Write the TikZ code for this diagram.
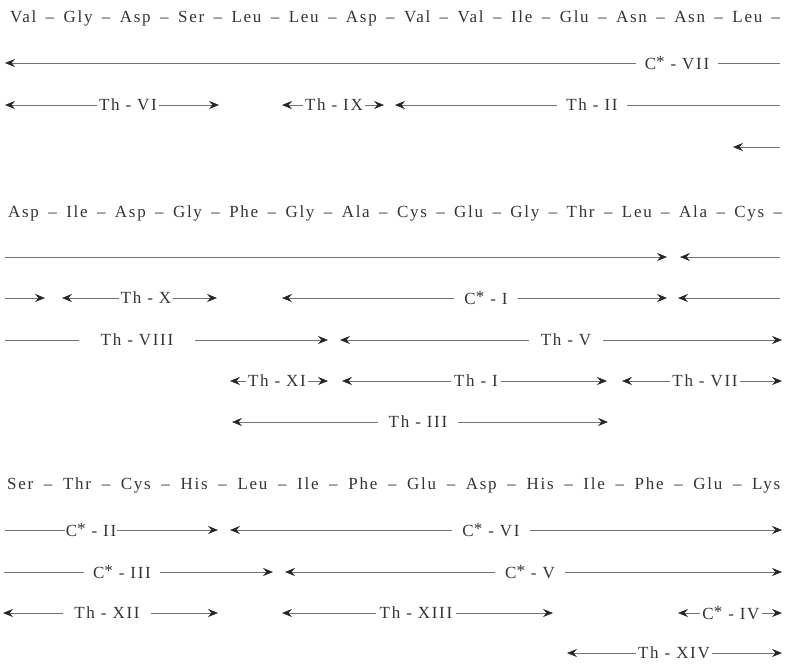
\documentclass[tikz,border=0pt]{standalone}
\usepackage{fontspec}
\setmainfont{Liberation Serif}[LetterSpace=10]
\usetikzlibrary{arrows.meta}
\newcommand{\Cst}{C\raisebox{2.5pt}{*}}
\begin{document}
\begin{tikzpicture}[x=1pt,y=-1pt,
  >={Stealth[length=10pt,width=8pt,inset=3.5pt,color=black!85]},
  seq/.style={anchor=base west, inner sep=0pt, text=black!80, font=\fontsize{17}{20}\selectfont},
  lab/.style={inner xsep=2pt, inner ysep=0pt, text=black!80, font=\fontsize{17}{20}\selectfont, anchor=center},
  ln/.style={draw=black!55, line width=0.7pt}]
\useasboundingbox (0,0) rectangle (788,664);

% ---------- sequence rows ----------
\node[seq] (r1) at (10,22) {\hbox to 770pt{Val\hfill–\hfill Gly\hfill–\hfill Asp\hfill–\hfill Ser\hfill–\hfill Leu\hfill–\hfill Leu\hfill–\hfill Asp\hfill–\hfill Val\hfill–\hfill Val\hfill–\hfill Ile\hfill–\hfill Glu\hfill–\hfill Asn\hfill–\hfill Asn\hfill–\hfill Leu\hfill–}};
\node[seq] (r2) at (8,217) {\hbox to 774pt{Asp\hfill–\hfill Ile\hfill–\hfill Asp\hfill–\hfill Gly\hfill–\hfill Phe\hfill–\hfill Gly\hfill–\hfill Ala\hfill–\hfill Cys\hfill–\hfill Glu\hfill–\hfill Gly\hfill–\hfill Thr\hfill–\hfill Leu\hfill–\hfill Ala\hfill–\hfill Cys\hfill–}};
\node[seq] (r3) at (7,489) {\hbox to 773pt{Ser\hfill–\hfill Thr\hfill–\hfill Cys\hfill–\hfill His\hfill–\hfill Leu\hfill–\hfill Ile\hfill–\hfill Phe\hfill–\hfill Glu\hfill–\hfill Asp\hfill–\hfill His\hfill–\hfill Ile\hfill–\hfill Phe\hfill–\hfill Glu\hfill–\hfill Lys}};

% ---------- row 1 fragments ----------
\coordinate (a1l) at (5,63);
\node[lab, inner xsep=9pt] (c7) at (677,63) {\Cst\ - VII};
\coordinate (a1r) at (780,63);
\draw[ln,<-] (a1l) -- (c7);
\draw[ln] (c7) -- (a1r);

\coordinate (b1l) at (5,105);
\node[lab] (th6) at (128,105) {Th - VI};
\coordinate (b1r) at (219,105);
\draw[ln,<-] (b1l) -- (th6);
\draw[ln,->] (th6) -- (b1r);

\coordinate (b2l) at (282,105);
\node[lab] (th9) at (334,105) {Th - IX};
\coordinate (b2r) at (384,105);
\draw[ln,<-] (b2l) -- (th9);
\draw[ln,->] (th9) -- (b2r);

\coordinate (b3l) at (395,105);
\node[lab, inner xsep=9pt] (th2) at (592,105) {Th - II};
\coordinate (b3r) at (780,105);
\draw[ln,<-] (b3l) -- (th2);
\draw[ln] (th2) -- (b3r);

\coordinate (s1l) at (733,147);
\coordinate (s1r) at (780,147);
\draw[ln,<-] (s1l) -- (s1r);

% ---------- row 2 fragments ----------
\coordinate (d1l) at (5,257);
\coordinate (d1r) at (667,257);
\draw[ln,->] (d1l) -- (d1r);
\coordinate (d2l) at (680,257);
\coordinate (d2r) at (780,257);
\draw[ln,<-] (d2l) -- (d2r);

\coordinate (e1l) at (5,298);
\coordinate (e1r) at (45,298);
\draw[ln,->] (e1l) -- (e1r);

\coordinate (e2l) at (62,298);
\node[lab] (th10) at (146,298) {Th - X};
\coordinate (e2r) at (217,298);
\draw[ln,<-] (e2l) -- (th10);
\draw[ln,->] (th10) -- (e2r);

\coordinate (e3l) at (282,298);
\node[lab, inner xsep=10pt] (c1) at (486,298) {\Cst\ - I};
\coordinate (e3r) at (667,298);
\draw[ln,<-] (e3l) -- (c1);
\draw[ln,->] (c1) -- (e3r);

\coordinate (e4l) at (678,298);
\coordinate (e4r) at (780,298);
\draw[ln,<-] (e4l) -- (e4r);

\coordinate (f1l) at (5,340);
\node[lab, inner xsep=22pt] (th8) at (137,340) {Th - VIII};
\coordinate (f1r) at (328,340);
\draw[ln] (f1l) -- (th8);
\draw[ln,->] (th8) -- (f1r);

\coordinate (f2l) at (340,340);
\node[lab, inner xsep=12pt] (th5) at (566,340) {Th - V};
\coordinate (f2r) at (782,340);
\draw[ln,<-] (f2l) -- (th5);
\draw[ln,->] (th5) -- (f2r);

\coordinate (g1l) at (230,381);
\node[lab] (th11) at (277,381) {Th - XI};
\coordinate (g1r) at (328,381);
\draw[ln,<-] (g1l) -- (th11);
\draw[ln,->] (th11) -- (g1r);

\coordinate (g2l) at (342,381);
\node[lab, inner xsep=3pt] (th1) at (476,381) {Th - I};
\coordinate (g2r) at (607,381);
\draw[ln,<-] (g2l) -- (th1);
\draw[ln,->] (th1) -- (g2r);

\coordinate (g3l) at (622,381);
\node[lab] (th7) at (705,381) {Th - VII};
\coordinate (g3r) at (782,381);
\draw[ln,<-] (g3l) -- (th7);
\draw[ln,->] (th7) -- (g3r);

\coordinate (h1l) at (232,422);
\node[lab, inner xsep=11pt] (th3) at (418,422) {Th - III};
\coordinate (h1r) at (608,422);
\draw[ln,<-] (h1l) -- (th3);
\draw[ln,->] (th3) -- (h1r);

% ---------- row 3 fragments ----------
\coordinate (k1l) at (5,530);
\node[lab, inner xsep=1pt] (c2) at (91,530) {\Cst\ - II};
\coordinate (k1r) at (218,530);
\draw[ln] (k1l) -- (c2);
\draw[ln,->] (c2) -- (k1r);

\coordinate (k2l) at (230,530);
\node[lab, inner xsep=10pt] (c6) at (491,530) {\Cst\ - VI};
\coordinate (k2r) at (782,530);
\draw[ln,<-] (k2l) -- (c6);
\draw[ln,->] (c6) -- (k2r);

\coordinate (m1l) at (4,572);
\node[lab, inner xsep=9pt] (c3) at (122,572) {\Cst\ - III};
\coordinate (m1r) at (273,572);
\draw[ln] (m1l) -- (c3);
\draw[ln,->] (c3) -- (m1r);

\coordinate (m2l) at (285,572);
\node[lab, inner xsep=10pt] (c5) at (530,572) {\Cst\ - V};
\coordinate (m2r) at (782,572);
\draw[ln,<-] (m2l) -- (c5);
\draw[ln,->] (c5) -- (m2r);

\coordinate (n1l) at (3,613);
\node[lab, inner xsep=11pt] (th12) at (107,613) {Th - XII};
\coordinate (n1r) at (218,613);
\draw[ln,<-] (n1l) -- (th12);
\draw[ln,->] (th12) -- (n1r);

\coordinate (n2l) at (282,613);
\node[lab, inner xsep=4pt] (th13) at (416,613) {Th - XIII};
\coordinate (n2r) at (553,613);
\draw[ln,<-] (n2l) -- (th13);
\draw[ln,->] (th13) -- (n2r);

\coordinate (n3l) at (678,613);
\node[lab] (c4) at (731,613) {\Cst\ - IV};
\coordinate (n3r) at (782,613);
\draw[ln,<-] (n3l) -- (c4);
\draw[ln,->] (c4) -- (n3r);

\coordinate (p1l) at (567,653);
\node[lab] (th14) at (674,653) {Th - XIV};
\coordinate (p1r) at (782,653);
\draw[ln,<-] (p1l) -- (th14);
\draw[ln,->] (th14) -- (p1r);
\end{tikzpicture}
\end{document}
